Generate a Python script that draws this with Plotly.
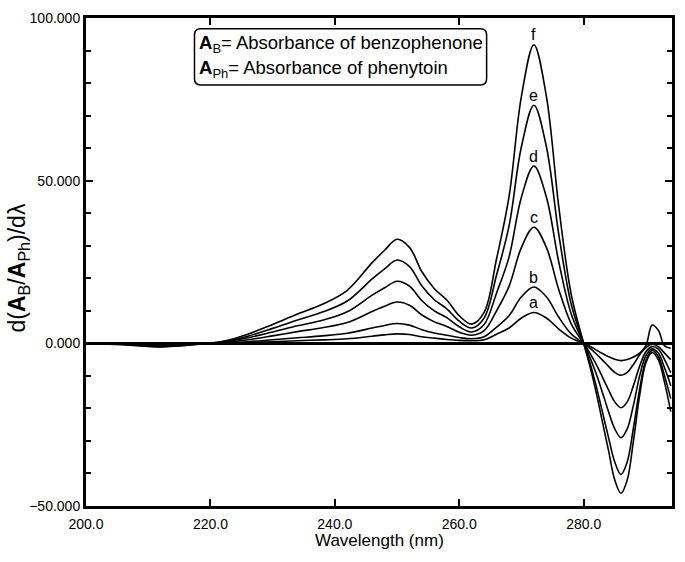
import plotly.graph_objects as go

wavelength = [200, 206, 212, 218, 222, 226, 230, 234, 238, 242, 246, 248,
              250, 252, 254, 256, 258, 260, 262, 264, 266, 268, 270, 272, 274, 276, 278, 280,
              281, 282, 283, 284, 285, 286, 287, 288, 289, 290, 291, 292, 293, 294]

curve_a = [0, -0.15, -0.6, -0.1, 0.05, 0.25, 0.5, 0.8, 1.05, 1.4, 2.2, 2.6,
           2.9, 2.7, 2.0, 1.6, 1.2, 0.9, 0.8, 1.1, 2.8, 4.7, 7.8, 9.5, 7.8, 4.4, 1.6, 0,
           -0.9, -2, -3.1, -4.1, -4.9, -5.3, -5.0, -4.2, -3.0, -0.8, 5.6, 4.0, -0.8, -1.5]
curve_b = [0, -0.2, -0.7, -0.1, 0.1, 0.5, 1.1, 1.7, 2.3, 3.1, 4.7, 5.5,
           6.1, 5.6, 4.2, 3.2, 2.5, 1.8, 1.4, 2.0, 5, 8.5, 14.3, 17.3, 14.3, 8, 2.9, 0,
           -1.5, -3.2, -5.1, -7.1, -8.9, -9.8, -8.9, -6.5, -3.5, -1.3, -0.3, -1, -3, -5]
curve_c = [0, -0.25, -0.8, -0.15, 0.25, 1.1, 2.3, 3.6, 4.8, 6.4, 9.8, 11.4,
           12.7, 11.7, 8.7, 6.6, 5.2, 3.4, 2.5, 3.9, 10, 17.5, 29.5, 35.7, 29.5, 16.5, 6, 0,
           -3, -6.4, -10.3, -14.3, -18, -19.8, -18, -13, -7, -2.6, -1.0, -1.8, -5, -9]
curve_d = [0, -0.3, -0.9, -0.2, 0.35, 1.7, 3.5, 5.4, 7.1, 9.7, 14.8, 17.1,
           19.1, 17.6, 13.1, 10.0, 7.9, 5.1, 3.5, 5.8, 15.5, 26.5, 45, 54.5, 45, 25, 9, 0,
           -4.3, -9.3, -15, -21, -26.3, -29, -26.3, -19, -10, -3.8, -1.7, -3, -7.5, -13]
curve_e = [0, -0.35, -1.0, -0.25, 0.5, 2.2, 4.6, 7.2, 9.6, 13.0, 19.8, 22.9,
           25.6, 23.6, 17.6, 13.4, 10.6, 6.8, 4.7, 7.8, 21, 36, 60.5, 73.2, 60.5, 33.5, 12, 0,
           -6, -13, -21, -29, -36.5, -40.3, -36.5, -26, -14, -5.2, -2.2, -4, -10, -17]
curve_f = [0, -0.4, -1.1, -0.3, 0.6, 2.8, 5.8, 9.0, 12.0, 16.3, 24.8, 28.6,
           32.0, 29.5, 22.0, 16.8, 13.3, 8.5, 5.9, 9.5, 26.0, 45.0, 76.0, 91.8, 76.0, 42.0, 15.0, 0.0,
           -7, -15, -24, -33, -42, -46.1, -42, -30, -16, -6, -2.8, -5, -12, -21]

curve_labels = ["a", "b", "c", "d", "e", "f"]
curves = [curve_a, curve_b, curve_c, curve_d, curve_e, curve_f]
label_wavelength = 272

y_title = "d(<b>A</b><sub>B</sub>/<b>A</b><sub>Ph</sub>)/dλ"
x_title = "Wavelength (nm)"
box_lines = ["<b>A</b><sub>B</sub>= Absorbance of benzophenone",
             "<b>A</b><sub>Ph</sub>= Absorbance of phenytoin"]

FONT = "Arial, Liberation Sans, sans-serif"

fig = go.Figure()
for name, ys in zip(curve_labels, curves):
    fig.add_trace(go.Scatter(x=wavelength, y=ys, mode="lines", name=name,
                             line=dict(color="black", width=1.6, shape="spline", smoothing=1.0),
                             showlegend=False, hoverinfo="skip"))

annotations = []
for name, ys in zip(curve_labels, curves):
    peak = ys[wavelength.index(label_wavelength)]
    annotations.append(dict(x=label_wavelength, y=peak, text=name, showarrow=False,
                            yshift=10, font=dict(size=16, color="black", family=FONT)))

annotations.append(dict(xref="paper", yref="paper", x=-0.115, y=0.488, text=y_title,
                        textangle=-90, showarrow=False, xanchor="center", yanchor="middle",
                        font=dict(size=23, color="black", family=FONT)))
annotations.append(dict(xref="paper", yref="paper", x=0.5, y=-0.071, text=x_title,
                        showarrow=False, xanchor="center", yanchor="middle",
                        font=dict(size=17, color="black", family=FONT)))
annotations.append(dict(x=217.9, y=92.1, text=box_lines[0], showarrow=False,
                        xanchor="left", yanchor="middle",
                        font=dict(size=18.5, color="black", family=FONT)))
annotations.append(dict(x=217.9, y=84.3, text=box_lines[1], showarrow=False,
                        xanchor="left", yanchor="middle",
                        font=dict(size=18.5, color="black", family=FONT)))

# rounded box
x0, x1, y0, y1 = 217.44, 264.4, 79.4, 96.7
rx, ry = 1.0, 1.9
path = (f"M {x0+rx},{y1} L {x1-rx},{y1} Q {x1},{y1} {x1},{y1-ry} "
        f"L {x1},{y0+ry} Q {x1},{y0} {x1-rx},{y0} L {x0+rx},{y0} "
        f"Q {x0},{y0} {x0},{y0+ry} L {x0},{y1-ry} Q {x0},{y1} {x0+rx},{y1} Z")

fig.update_layout(
    width=685, height=562,
    margin=dict(l=86, r=10, t=15, b=56),
    paper_bgcolor="white", plot_bgcolor="white",
    font=dict(family=FONT, color="black", size=14),
    annotations=annotations,
    shapes=[dict(type="path", path=path, xref="x", yref="y",
                 line=dict(color="black", width=1.5), fillcolor="white", layer="above")],
)
fig.update_xaxes(range=[200, 294.2], tickmode="linear", tick0=200, dtick=20,
                 tickformat=".1f", ticks="inside", ticklen=7, tickwidth=2, tickcolor="black",
                 showline=True, linewidth=3, linecolor="black", mirror="ticks",
                 showgrid=False, zeroline=False, tickfont=dict(size=14),
                 ticklabelstandoff=3)
fig.update_yaxes(range=[-50, 100], tickmode="linear", tick0=-50, dtick=50,
                 tickformat=".3f", ticks="inside", ticklen=7, tickwidth=2, tickcolor="black",
                 showline=True, linewidth=3, linecolor="black", mirror="ticks",
                 showgrid=False, zeroline=True, zerolinecolor="black", zerolinewidth=3,
                 minor=dict(dtick=10, ticks="inside", ticklen=5, tickwidth=2, tickcolor="black"),
                 tickfont=dict(size=14), ticklabeloverflow="allow")

# remove the default page margin so the figure sits at the window's top-left corner
fig.write_html("out.html", config={"displayModeBar": False},
               post_script="document.body.style.margin='0';")
